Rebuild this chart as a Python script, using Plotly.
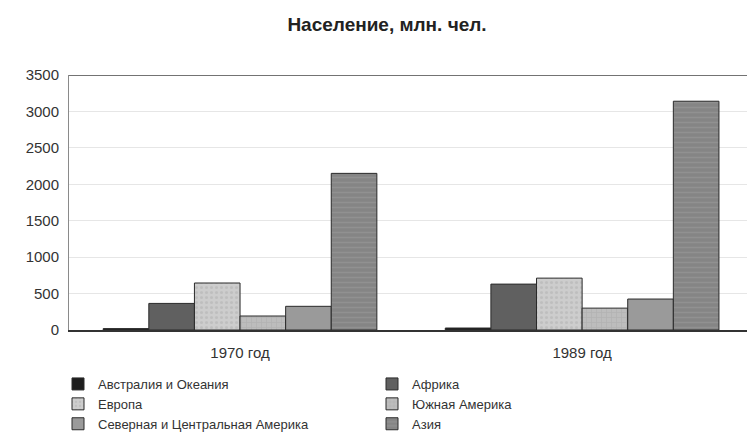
import plotly.graph_objects as go

categories = ["1970 год", "1989 год"]
series_names = ["Австралия и Океания", "Африка", "Европа", "Южная Америка",
                "Северная и Центральная Америка", "Азия"]
australia = [19, 27]
africa = [365, 630]
europe = [645, 712]
south_america = [192, 300]
north_central_america = [325, 425]
asia = [2150, 3140]
series_values = [australia, africa, europe, south_america, north_central_america, asia]
y_ticks = [0, 500, 1000, 1500, 2000, 2500, 3000, 3500]

colors = ["#1e1e1e", "#606060", "#cdcdcd", "#bdbdbd", "#9a9a9a", "#858585"]
patterns = ["", "", ".", "+", "", "-"]
pattern_fg = ["#1e1e1e", "#555555", "#b0b0b0", "#a8a8a8", "#8a8a8a", "#9e9e9e"]

fig = go.Figure()
for name, vals, c, p, fg in zip(series_names, series_values, colors, patterns, pattern_fg):
    fig.add_trace(go.Bar(
        x=categories, y=vals, name=name,
        marker=dict(color=c, line=dict(color="#2a2a2a", width=1),
                    pattern=dict(shape=p, fgcolor=fg, size=5, solidity=0.3)),
    ))

fig.update_layout(
    width=747, height=448,
    paper_bgcolor="white", plot_bgcolor="white",
    margin=dict(l=69, r=0, t=75, b=118),
    barmode="group", bargap=0.2, bargroupgap=0,
    font=dict(family="Arial, Liberation Sans, sans-serif", size=14, color="#333333"),
    title=dict(text="<b>Население, млн. чел.</b>", x=387/747, xanchor="center",
               y=1 - 24/448, yanchor="middle", font=dict(size=19, color="#222222")),
    xaxis=dict(range=[-0.5, 1.482], showgrid=False, showline=True, linecolor="#333333",
               linewidth=1.5, ticks="", ticklabelstandoff=8, tickfont=dict(size=15),
               automargin=False),
    yaxis=dict(range=[0, 3500], tickvals=y_ticks, showgrid=True, gridcolor="#e6e6e6",
               showline=True, linecolor="#8a8a8a", linewidth=1, ticks="",
               ticklabelstandoff=6, zeroline=False, tickfont=dict(size=15),
               automargin=False),
    legend=dict(orientation="h", xref="container", yref="container",
                x=58/747, y=1 - 369/448, xanchor="left", yanchor="top",
                entrywidth=269, entrywidthmode="pixels", traceorder="normal",
                font=dict(size=13, color="#333333"), itemwidth=30,
                tracegroupgap=0),
    shapes=[dict(type="line", xref="paper", yref="y", x0=0, x1=1, y0=3500, y1=3500,
                 line=dict(color="#444444", width=1.5))],
)

fig.write_html("out.html", config={"displayModeBar": False},
               post_script="document.body.style.margin='0';")
